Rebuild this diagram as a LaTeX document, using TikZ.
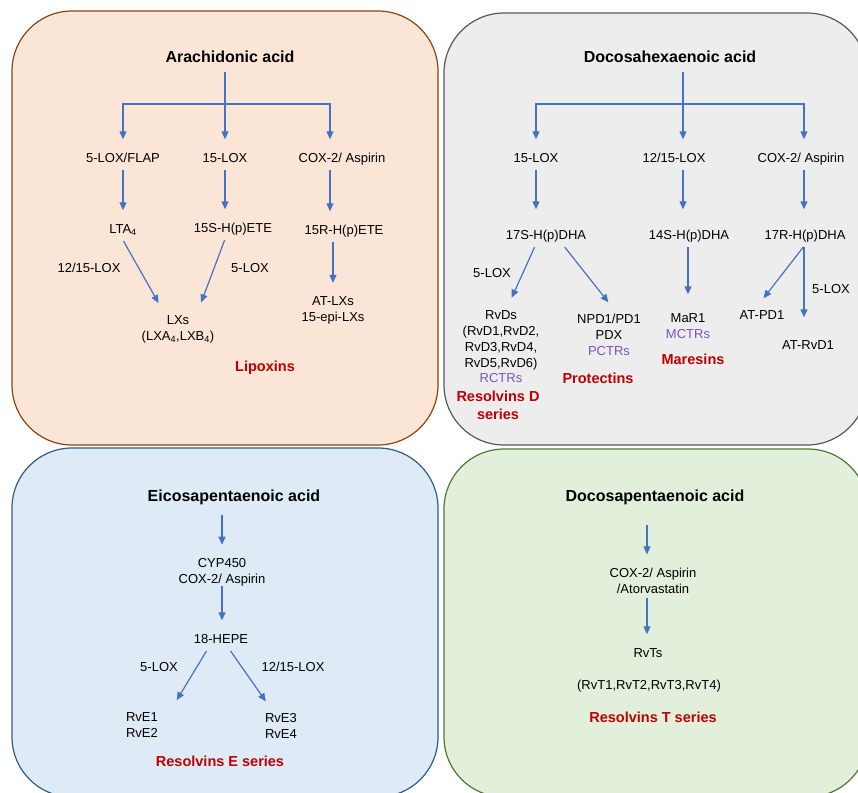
\documentclass[tikz,border=0pt]{standalone}
\usepackage{fontspec}
\setmainfont{Liberation Sans}
\usetikzlibrary{arrows.meta}

\definecolor{peach}{HTML}{FBE5D6}
\definecolor{peachline}{HTML}{8B4513}
\definecolor{greyfill}{HTML}{EDEDED}
\definecolor{greyline}{HTML}{595959}
\definecolor{bluefill}{HTML}{DEEBF7}
\definecolor{blueline}{HTML}{2E5E8C}
\definecolor{greenfill}{HTML}{E2EFDA}
\definecolor{greenline}{HTML}{4E7A2E}
\definecolor{lnblue}{HTML}{4472C4}
\definecolor{clsred}{HTML}{C00000}
\definecolor{ctrpurple}{HTML}{8050C0}

\tikzset{
  panel/.style={rounded corners=60pt, line width=1.2pt},
  chem/.style={font=\fontsize{13}{16}\selectfont, inner xsep=2pt, inner ysep=4pt, anchor=base, align=center},
  txt/.style={chem, text height=9.5pt, text depth=3pt},
  ctr/.style={txt, text=ctrpurple},
  acid/.style={font=\fontsize{16}{19}\selectfont\bfseries, inner ysep=4pt, anchor=base, text height=12pt, text depth=3.5pt},
  cls/.style={font=\fontsize{14.5}{18}\selectfont\bfseries, text=clsred, anchor=base, align=center},
  arr/.style={draw=lnblue, line width=1.2pt, -{Triangle[length=8pt,width=7pt]}, shorten <=1pt, shorten >=9pt},
}

\begin{document}
\begin{tikzpicture}[x=1pt, y=-1pt]
\useasboundingbox (0,0) rectangle (858,792);
\clip (0,0) rectangle (858,792);

% arachidonic acid
\draw[panel, fill=peach, draw=peachline] (12,11) rectangle (438,445);
\node[acid] (aa) at (230,63) {Arachidonic acid};
\node[txt] (lox5) at (123,162) {5-LOX/FLAP};
\node[txt] (lox15) at (225,162) {15-LOX};
\node[txt] (cox1) at (342,162) {COX-2/ Aspirin};
\node[txt] (lta) at (123,233) {LTA\textsubscript{4}};
\node[txt] (h15s) at (233,232) {15S-H(p)ETE};
\node[txt] (h15r) at (344,234) {15R-H(p)ETE};
\node[txt] (e1) at (89,272) {12/15-LOX};
\node[txt] (e2) at (250,272) {5-LOX};
\node[chem] (lxs) at (178,340) {LXs\\(LXA\textsubscript{4},LXB\textsubscript{4})};
\node[chem] (atlx) at (333,321) {AT-LXs\\15-epi-LXs};
\node[cls] (lip) at (265,371) {Lipoxins};
\coordinate (bar1) at (226,104);
\coordinate (c13) at (330,104);

\draw[arr] (aa.south -| lox15) -- (lox15);
\draw[arr, shorten <=0pt] (bar1) -| (lox5);
\draw[arr, shorten <=0pt] (bar1) -| (cox1.north -| c13);
\draw[arr] (lox5) -- (lta);
\draw[arr] (lox15) -- (lox15 |- h15s.north);
\draw[arr] (cox1.south -| c13) -- (h15r.north -| c13);
\draw[arr] (h15r.south -| atlx) -- (atlx);
\draw[arr] (lta.south) -- ([xshift=-15pt]lxs.north);
\draw[arr] (lox15 |- h15s.south) -- ([xshift=20pt]lxs.north);

% docosahexaenoic acid
\draw[panel, fill=greyfill, draw=greyline] (444,13) rectangle (867,445);
\node[acid] (dha) at (670,63) {Docosahexaenoic acid};
\node[txt] (lox15b) at (536,162) {15-LOX};
\node[txt] (lox12b) at (674,162) {12/15-LOX};
\node[txt] (cox2) at (801,162) {COX-2/ Aspirin};
\node[txt] (h17s) at (546,239) {17S-H(p)DHA};
\node[txt] (h14s) at (689,239) {14S-H(p)DHA};
\node[txt] (h17r) at (805,239) {17R-H(p)DHA};
\node[txt] (e3) at (492,277) {5-LOX};
\node[txt] (e4) at (831,293) {5-LOX};
\node[chem] (rvds) at (501,367) {RvDs\\(RvD1,RvD2,\\RvD3,RvD4,\\RvD5,RvD6)};
\node[ctr] (rctr) at (501,382) {RCTRs};
\node[cls] (resd) at (498,419) {Resolvins D\\series};
\node[chem] (npd) at (609,339) {NPD1/PD1\\PDX};
\node[ctr] (pctr) at (609,355) {PCTRs};
\node[cls] (prot) at (598,383) {Protectins};
\node[txt] (mar) at (688,322) {MaR1};
\node[ctr] (mctr) at (688,338) {MCTRs};
\node[cls] (mares) at (693,364) {Maresins};
\node[txt] (atpd) at (762,319) {AT-PD1};
\node[txt] (atrvd) at (808,349) {AT-RvD1};
\coordinate (t2) at (683,104);
\coordinate (d3) at (804,104);

\draw[arr] (dha.south -| t2) -- (lox12b.north -| t2);
\draw[arr, shorten <=0pt] (t2) -| (lox15b);
\draw[arr, shorten <=0pt] (t2) -| (cox2.north -| d3);
\draw[arr, shorten >=16pt] (lox15b) -- (lox15b |- h17s.north);
\draw[arr, shorten >=16pt] (lox12b.south -| t2) -- (h14s.north -| t2);
\draw[arr, shorten >=16pt] (cox2.south -| d3) -- (h17r.north -| d3);
\draw[arr] ([xshift=-11pt]h17s.south) -- ([xshift=7pt]rvds.north);
\draw[arr] ([xshift=18pt]h17s.south) -- ([xshift=5pt]npd.north);
\draw[arr, shorten >=14pt] (h14s.south -| mar) -- (mar);
\draw[arr] (h17r.south -| d3) -- ([xshift=-4pt]atpd.north);
\draw[arr, shorten >=18pt] (h17r.south -| d3) -- (atrvd.north -| d3);

% eicosapentaenoic acid
\draw[panel, fill=bluefill, draw=blueline] (12,448) rectangle (438,797);
\node[acid] (epa) at (234,501) {Eicosapentaenoic acid};
\node[chem] (cyp) at (222,583) {CYP450\\COX-2/ Aspirin};
\node[txt] (hepe) at (221,643) {18-HEPE};
\node[txt] (e5) at (159,671) {5-LOX};
\node[txt] (e6) at (293,671) {12/15-LOX};
\node[chem] (rve12) at (142,737) {RvE1\\RvE2};
\node[chem] (rve34) at (281,738) {RvE3\\RvE4};
\node[cls] (rese) at (220,766) {Resolvins E series};

\draw[arr, shorten <=6pt] (epa.south -| cyp) -- (cyp);
\draw[arr, shorten <=-4pt] (cyp) -- (cyp |- hepe.north);
\draw[arr] ([xshift=-14pt]hepe.south) -- ([xshift=30pt]rve12.north);
\draw[arr] ([xshift=9pt]hepe.south) -- ([xshift=-10pt]rve34.north);

% docosapentaenoic acid
\draw[panel, fill=greenfill, draw=greenline] (444,449) rectangle (868,797);
\node[acid] (dpa) at (655,501) {Docosapentaenoic acid};
\node[chem] (cox4) at (653,593) {COX-2/ Aspirin\\/Atorvastatin};
\node[txt] (rvts) at (648,657) {RvTs};
\node[txt] (rvtl) at (649,689) {(RvT1,RvT2,RvT3,RvT4)};
\node[cls] (rest) at (653,722) {Resolvins T series};
\coordinate (c4) at (647,449);

\draw[arr, shorten <=16pt] (dpa.south -| c4) -- (cox4.north -| c4);
\draw[arr] (cox4.south -| c4) -- (rvts.north -| c4);

\end{tikzpicture}
\end{document}
